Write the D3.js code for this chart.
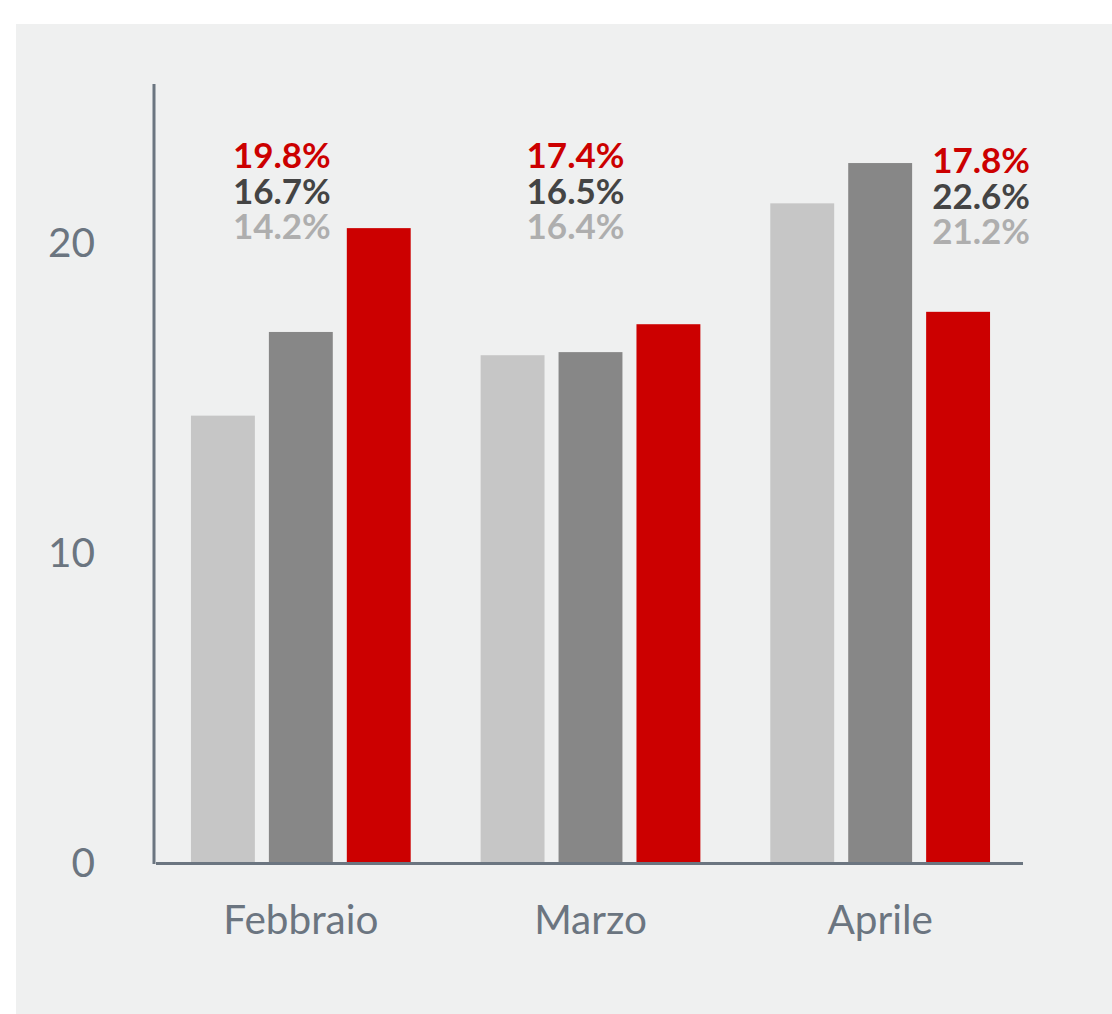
<!DOCTYPE html>
<html>
<head>
<meta charset="utf-8">
<script src="https://cdn.jsdelivr.net/npm/d3@7"></script>
<style>
  html, body { margin: 0; padding: 0; background: #ffffff; }
  svg { display: block; }
  text { font-family: Lato, "Noto Sans", sans-serif; }
</style>
</head>
<body>
<svg id="chart" width="1112" height="1014"></svg>
<script>
// ---- data ----
const categories = ["Febbraio", "Marzo", "Aprile"];
const seriesNames = ["s1", "s2", "s3"];
const seriesLight = [14.4, 16.35, 21.25];   // bar heights, light gray series
const seriesDark  = [17.1, 16.45, 22.55];   // bar heights, dark gray series
const seriesRed   = [20.45, 17.35, 17.75];  // bar heights, red series
const labelsLight = ["14.2%", "16.4%", "21.2%"];
const labelsDark  = ["16.7%", "16.5%", "22.6%"];
const labelsRed   = ["19.8%", "17.4%", "17.8%"];
const yTicks = [0, 10, 20];

// ---- styles ----
const barColors = ["#c6c6c6", "#878787", "#cc0000"];
const labelColors = ["#aeaeae", "#444444", "#cc0000"];
const axisColor = "#6b7580";

const svg = d3.select("#chart");
svg.append("rect").attr("x", 16).attr("y", 24).attr("width", 1112 - 16).attr("height", 1014 - 24).attr("fill", "#eff0f0");

const plot = { left: 155, right: 1023, top: 84, bottom: 862 };

const x = d3.scaleBand().domain(categories).range([plot.left + 1, plot.right + 2]).paddingInner(0.2414).paddingOuter(0.1207);
const xi = d3.scaleBand().domain(seriesNames).range([0, x.bandwidth()]).paddingInner(0.18);
const y = d3.scaleLinear().domain([0, 25.1]).range([plot.bottom, plot.top]);

const series = [seriesLight, seriesDark, seriesRed];
const labelSets = [labelsLight, labelsDark, labelsRed];

const rows = [];
categories.forEach((c, ci) => {
  seriesNames.forEach((s, si) => rows.push({ c, s, si, v: series[si][ci] }));
});

// bars
svg.append("g").selectAll("rect").data(rows).join("rect")
  .attr("x", d => x(d.c) + xi(d.s))
  .attr("width", xi.bandwidth())
  .attr("y", d => y(d.v))
  .attr("height", d => y(0) - y(d.v))
  .attr("fill", d => barColors[d.si]);

// y axis
const yAxis = svg.append("g").attr("transform", `translate(${plot.left},0)`)
  .call(d3.axisLeft(y).tickValues(yTicks).tickSize(0).tickPadding(60).tickFormat(d3.format("d")));
yAxis.select(".domain").remove();
yAxis.selectAll("text").attr("fill", axisColor).attr("font-size", 40.5).attr("text-anchor", "end")
  .attr("dy", "0.36em");

svg.append("line").attr("x1", plot.left - 1).attr("x2", plot.left - 1).attr("y1", plot.top).attr("y2", plot.bottom + 2)
  .attr("stroke", axisColor).attr("stroke-width", 3);

// x axis
const xAxis = svg.append("g").attr("transform", `translate(0,${plot.bottom})`)
  .call(d3.axisBottom(x).tickSize(0).tickPadding(43));
xAxis.select(".domain").remove();
xAxis.selectAll("text").attr("fill", axisColor).attr("font-size", 40.5).attr("dy", "0.71em");
svg.append("line").attr("x1", plot.left + 1).attr("x2", plot.right).attr("y1", plot.bottom + 1.5).attr("y2", plot.bottom + 1.5)
  .attr("stroke", axisColor).attr("stroke-width", 3);

// value labels (red on top, then dark, then light) as one text block per group
const order = [2, 1, 0];
categories.forEach((c, ci) => {
  const last = ci === categories.length - 1;
  const ax = last ? x(c) + xi("s3") + 6 : x(c) + xi("s2") + xi.bandwidth() + (ci === 0 ? -2 : 2);
  const base = last ? 173 : 168;
  const t = svg.append("text")
    .attr("x", ax)
    .attr("y", base)
    .attr("text-anchor", last ? "start" : "end")
    .attr("font-size", 35)
    .attr("font-weight", 700);
  order.forEach((si, k) => {
    t.append("tspan")
      .attr("x", ax)
      .attr("y", base + k * 35.5)
      .attr("fill", labelColors[si])
      .text(labelSets[si][ci]);
  });
});
</script>
</body>
</html>
